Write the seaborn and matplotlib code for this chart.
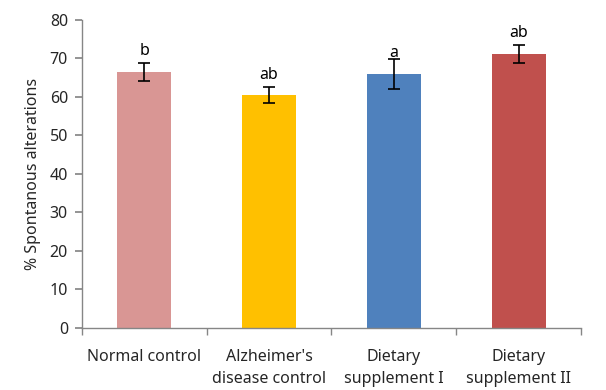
import matplotlib
matplotlib.use("Agg")
import matplotlib.pyplot as plt
import seaborn as sns
import pandas as pd
import numpy as np

categories = ["Normal control", "Alzheimer's\ndisease control", "Dietary\nsupplement I", "Dietary\nsupplement II"]
values = [66.5, 60.5, 66.0, 71.2]
errors = [2.4, 2.0, 3.9, 2.4]
letters = ["b", "ab", "a", "ab"]
colors = ["#D99694", "#FFC000", "#4F81BD", "#C0504D"]
yticks = [0, 10, 20, 30, 40, 50, 60, 70, 80]

sns.set_theme(style="white")
plt.rcParams['font.family'] = ['Noto Sans', 'DejaVu Sans']
FS = 11.5

df = pd.DataFrame({"cat": categories, "val": values})
fig = plt.figure(figsize=(6.06, 3.9), dpi=100)
ax = fig.add_axes([0.135, 0.159, 0.824, 0.790])
sns.barplot(data=df, x="cat", y="val", hue="cat", palette=colors, width=0.43,
            errorbar=None, legend=False, ax=ax, saturation=1, linewidth=0)
x = np.arange(len(categories))
ax.errorbar(x, values, yerr=errors, fmt="none", ecolor="black", elinewidth=1.2,
            capsize=4, capthick=1.2)
for xi, v, t in zip(x, values, letters):
    ax.text(xi, v + 5.3, t, ha="center", va="center", fontsize=FS, color="black")

ax.set_ylim(0, 80)
ax.set_xlim(-0.5, len(categories) - 0.5)
ax.set_yticks(yticks)
ax.set_yticklabels([str(t) for t in yticks], fontsize=FS)
ax.set_xticks(x)
ax.set_xticklabels(categories, fontsize=FS, linespacing=1.55)
ax.set_xticks(np.arange(len(categories) + 1) - 0.5, minor=True)
ax.tick_params(axis="x", which="major", length=0, pad=15)
ax.tick_params(axis="x", which="minor", length=5, color="#868686", direction="out", bottom=True)
ax.tick_params(axis="y", length=5, color="#868686", direction="out", left=True, pad=5)
ax.set_xlabel("")
ax.set_ylabel("% Spontanous alterations", fontsize=FS, labelpad=6)
for s in ["top", "right"]:
    ax.spines[s].set_visible(False)
for s in ["left", "bottom"]:
    ax.spines[s].set_color("#868686")
    ax.spines[s].set_linewidth(1)

fig.savefig("out.png", dpi=100)
